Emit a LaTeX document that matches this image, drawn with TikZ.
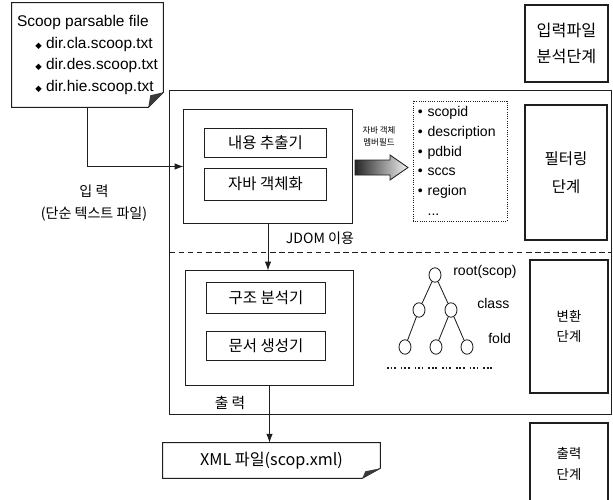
\documentclass[tikz,border=0pt]{standalone}
\usepackage{fontspec}
\setmainfont{Liberation Sans}
\newfontfamily\kr{Noto Sans CJK KR}
\newfontfamily\symfont{DejaVu Sans}
\usetikzlibrary{arrows.meta, positioning, calc, shapes.geometric}
\definecolor{ink}{HTML}{1E1E1E}
\definecolor{foldgray}{HTML}{3A3A3A}

\tikzset{
  block/.style={draw=ink, line width=0.7pt, inner sep=0pt, font=\kr\fontsize{11}{13}\selectfont},
  frame/.style={draw=ink, line width=0.7pt, inner sep=0pt},
  stagebox/.style={draw=ink, line width=0.8pt, inner sep=0pt, align=center, font=\kr},
  treenode/.style={ellipse, draw=ink, line width=0.6pt, minimum width=0.3cm, minimum height=0.36cm, inner sep=0pt},
  leaflabel/.style={anchor=west, inner sep=0pt, font=\fontsize{10}{12}\selectfont},
}

\begin{document}
\begin{tikzpicture}[x=0.025cm, y=-0.025cm, >={Latex[length=2.2mm, width=1.6mm]}]
\useasboundingbox (0,0) rectangle (613,500);

% Input file (folded page)
\node[inner sep=0pt, minimum width=3.775cm, minimum height=2.6cm, align=left,
      font=\fontsize{11}{15.2}\selectfont] (src) at (87.5,55)
  {Scoop parsable file\\
   \hspace{13pt}{\symfont\fontsize{6}{6}\selectfont ◆} dir.cla.scoop.txt\\
   \hspace{13pt}{\symfont\fontsize{6}{6}\selectfont ◆} dir.des.scoop.txt\\
   \hspace{13pt}{\symfont\fontsize{6}{6}\selectfont ◆} dir.hie.scoop.txt};
\draw[ink, line width=0.7pt] (src.north west) -- (src.north east)
  -- ($(src.south east)+(0,-15)$) -- ($(src.south east)+(-15,0)$)
  -- (src.south west) -- cycle;
\fill[foldgray] ($(src.south east)+(0,-15)$) -- ($(src.south east)+(-15,0)$)
  -- ($(src.south east)+(-13,-12)$) -- cycle;

% Stage boxes
\node[stagebox, minimum width=2.075cm, minimum height=1.925cm,
      font=\kr\fontsize{11.5}{18.5}\selectfont] (st1) at (566.5,43.5) {입력파일\\분석단계};
\node[stagebox, minimum width=2.05cm, minimum height=3.375cm,
      font=\kr\fontsize{11}{20}\selectfont] (st2) at (566,172.5) {필터링\\단계};
\node[stagebox, minimum width=1.95cm, minimum height=3.325cm,
      font=\kr\fontsize{9.5}{14}\selectfont] (st3) at (569,326.5) {변환\\단계};
\node[stagebox, minimum width=1.95cm, minimum height=2.05cm,
      font=\kr\fontsize{9.5}{15}\selectfont] (st4) at (569,464) {출력\\단계};

% Outer frame with dashed split
\node[frame, minimum width=11.025cm, minimum height=8.075cm] (outer) at (390.5,252.5) {};
\draw[ink, line width=0.7pt, dash pattern=on 4pt off 2.5pt] (outer.west) -- (outer.east);

% Filtering stage
\node[frame, minimum width=4.2cm, minimum height=2.825cm] (filt) at (268,166.5) {};
\node[block, minimum width=3.025cm, minimum height=0.725cm] (extr) at (265.5,142.5) {내용 추출기};
\node[block, minimum width=3.025cm, minimum height=0.8cm] (jobj) at (265.5,184) {자바 객체화};

% Member fields
\node[inner sep=0pt, align=center, font=\kr\fontsize{6}{8.5}\selectfont] (fieldlbl) at (379,136) {자바 객체\\멤버필드};
\shade[left color=black!85, middle color=gray!35, right color=gray!10, draw=ink, line width=0.6pt]
  (355,160) -- (390,160) -- (390,155) -- (408,167.5) -- (390,180) -- (390,175) -- (355,175) -- cycle;
\node[draw=ink, densely dotted, line width=0.6pt, text width=2.1cm, inner xsep=0.125cm,
      minimum height=3cm, align=left, font=\fontsize{10}{14}\selectfont] (attr) at (460,161)
  {\textbullet\ scopid\\ \textbullet\ description\\ \textbullet\ pdbid\\
   \textbullet\ sccs\\ \textbullet\ region\\ \phantom{\textbullet}\ ...};

% Transform stage
\node[frame, minimum width=4.175cm, minimum height=2.85cm] (conv) at (269.5,328) {};
\node[block, minimum width=2.95cm, minimum height=0.775cm] (pars) at (266,297.5) {구조 분석기};
\node[block, minimum width=2.95cm, minimum height=0.725cm] (gen) at (266,345.5) {문서 생성기};

% Tree
\node[treenode] (root) at (435,275) {};
\node[treenode] (c1) at (419,310) {};
\node[treenode] (c2) at (451,310) {};
\node[treenode] (f1) at (405,347) {};
\node[treenode] (f2) at (436,347) {};
\node[treenode] (f3) at (467,347) {};
\draw[ink, line width=0.6pt] (root) -- (c1) (root) -- (c2)
  (c1) -- (f1) (c2) -- (f2) (c2) -- (f3);
\node[leaflabel] (rootlbl) at (453,272) {root(scop)};
\node[leaflabel] (classlbl) at (477,303) {class};
\node[leaflabel] (foldlbl) at (488,338) {fold};
\draw[ink, line width=1.3pt, dash pattern=on 1.2pt off 1.3pt on 1.2pt off 1.3pt on 1.2pt off 3.6pt]
  (387,368) -- (492,368);

% Output file (folded page)
\node[inner sep=0pt, minimum width=5.425cm, minimum height=0.875cm,
      font=\kr\fontsize{11.5}{13}\selectfont] (xml) at (271.5,460.5) {XML 파일(scop.xml)};
\draw[ink, line width=0.7pt] (xml.north west) -- (xml.north east)
  -- ($(xml.south east)+(0,-10)$) -- ($(xml.south east)+(-18,0)$)
  -- (xml.south west) -- cycle;
\fill[foldgray] ($(xml.south east)+(0,-10)$) -- ($(xml.south east)+(-18,0)$)
  -- ($(xml.south east)+(-15,-7)$) -- cycle;

% Connectors and labels
\draw[ink, line width=0.6pt, ->] (src.south) |- (filt.west);
\node[inner sep=0pt, align=center, font=\kr\fontsize{10}{16}\selectfont] (inlbl) at (94,203) {입 력\\(단순 텍스트 파일)};
\draw[ink, line width=0.6pt, ->] (filt.south) -- (filt.south |- conv.north);
\node[inner sep=0pt, font=\kr\fontsize{10}{12}\selectfont] (jdom) at (320,238) {JDOM 이용};
\draw[ink, line width=0.6pt, ->] (conv.south) -- (conv.south |- xml.north);
\node[inner sep=0pt, font=\kr\fontsize{10.5}{12}\selectfont] (outlbl) at (230,403) {출 력};

\end{tikzpicture}
\end{document}
